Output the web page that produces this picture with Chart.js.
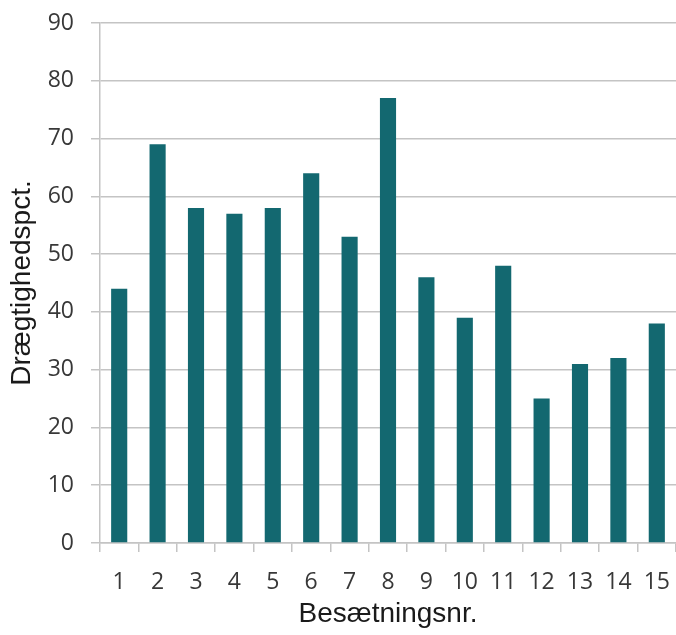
<!DOCTYPE html>
<html>
<head>
<meta charset="utf-8">
<script src="https://cdn.jsdelivr.net/npm/chart.js@4.4.1/dist/chart.umd.min.js"></script>
<style>
html,body{margin:0;padding:0;background:#fff;}
#wrap{width:676px;height:635px;}
</style>
</head>
<body>
<div id="wrap"><canvas id="c" width="676" height="635"></canvas></div>
<script>
const categories = ["1","2","3","4","5","6","7","8","9","10","11","12","13","14","15"];
const values = [44, 69, 58, 57, 58, 64, 53, 77, 46, 39, 48, 25, 31, 32, 38];
const yTicks = [0, 10, 20, 30, 40, 50, 60, 70, 80, 90];
const xTitle = "Besætningsnr.";
const yTitle = "Drægtighedspct.";

const gridColor = "#c4c4c4";
new Chart(document.getElementById("c"), {
  type: "bar",
  data: {
    labels: categories,
    datasets: [{
      data: values,
      backgroundColor: "#136870",
      borderWidth: 0,
      categoryPercentage: 1.0,
      barPercentage: 0.42
    }]
  },
  options: {
    responsive: false,
    animation: false,
    devicePixelRatio: 1,
    layout: { padding: { top: 23, right: 0, bottom: 0, left: 0 } },
    plugins: { legend: { display: false }, tooltip: { enabled: false } },
    scales: {
      x: {
        grid: { offset: true, drawOnChartArea: false, color: gridColor, lineWidth: 1.5, tickLength: 9 },
        border: { color: gridColor, width: 1.5 },
        ticks: { color: "#383838", font: { family: "Open Sans", size: 23 }, padding: 17, maxRotation: 0, autoSkip: false },
        title: { display: true, text: xTitle, color: "#1a1a1a", font: { family: "Liberation Sans", size: 28 }, padding: { top: 0, bottom: 4 } },
        afterFit: s => { s.height = 92; s.paddingLeft = 0; s.paddingRight = 0; }
      },
      y: {
        min: 0, max: 90,
        afterBuildTicks: s => { s.ticks = yTicks.map(v => ({ value: v })); },
        grid: { color: gridColor, lineWidth: 1.5, tickLength: 9 },
        border: { color: gridColor, width: 1.5 },
        ticks: { color: "#383838", font: { family: "Open Sans", size: 23 }, padding: 17 },
        title: { display: true, text: yTitle, color: "#1a1a1a", font: { family: "Liberation Sans", size: 28 }, padding: { top: 5, bottom: 0 } },
        afterFit: s => { s.width = 100; s.paddingTop = 0; s.paddingBottom = 0; }
      }
    }
  }
});
</script>
</body>
</html>
